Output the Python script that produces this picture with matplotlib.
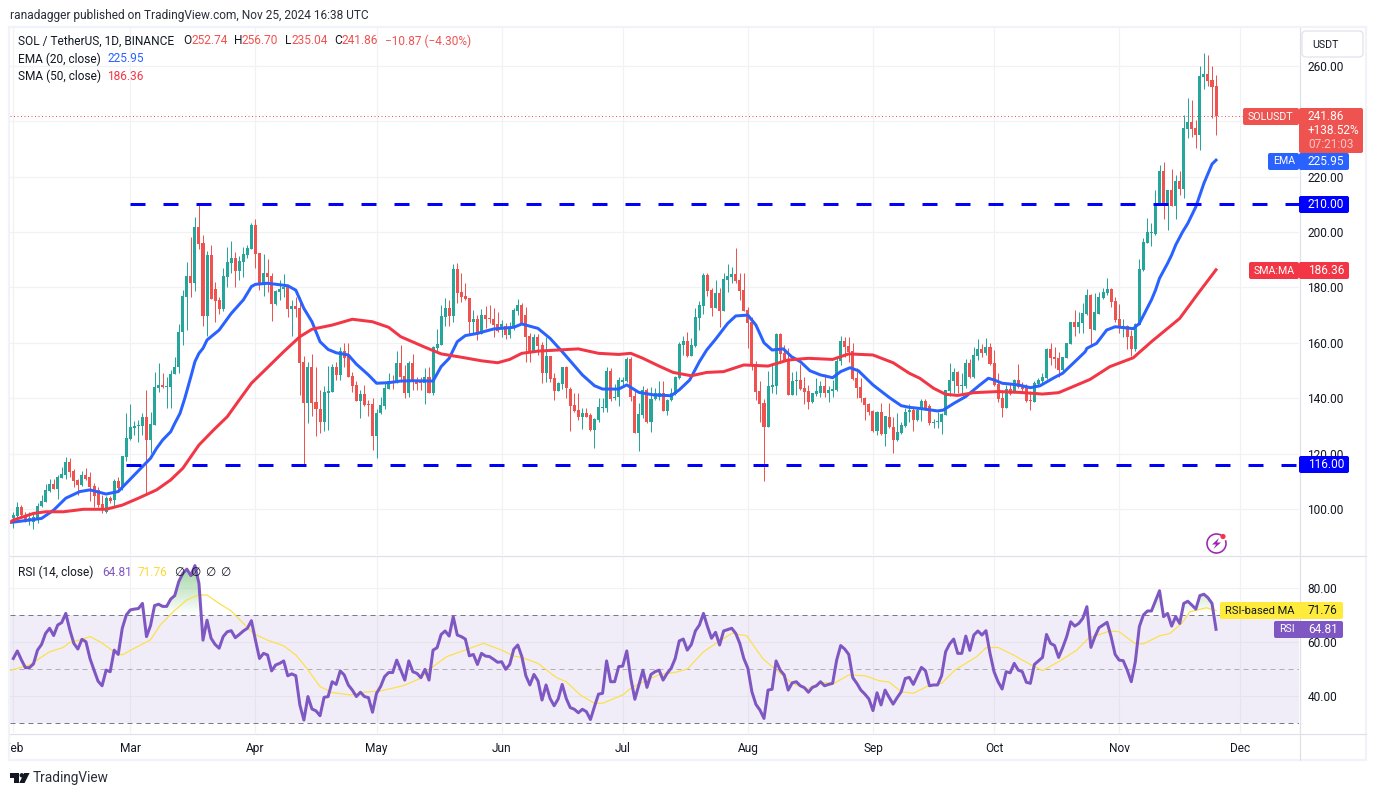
import matplotlib
matplotlib.use("Agg")
import matplotlib.pyplot as plt
import numpy as np
from matplotlib.colors import LinearSegmentedColormap
from matplotlib.patches import Circle, FancyBboxPatch, Polygon, Rectangle, Arc
from matplotlib.path import Path

plt.rcParams['font.family'] = ['Roboto', 'DejaVu Sans']

# daily candles, index 0 is Feb 1 2024
opens = [96.6,97.5,100.8,97.8,96.0,95.4,96.3,101.0,102.6,106.6,
108.9,107.2,111.3,112.3,117.1,113.8,110.5,108.7,112.3,111.7,
108.2,106.9,101.7,99.0,103.9,103.2,110.1,107.7,118.9,125.4,
129.4,129.8,130.0,133.1,124.9,130.4,143.8,144.6,144.2,144.1,
148.6,151.1,163.8,176.7,184.1,181.7,201.7,195.9,169.7,191.7,
179.4,175.5,172.1,183.9,188.9,190.5,186.0,189.3,191.7,193.9,
202.5,192.3,180.9,185.1,184.1,174.0,178.5,179.3,180.6,172.2,
173.3,172.4,153.1,138.4,151.4,138.5,136.1,131.4,142.0,142.4,
151.4,148.4,157.0,155.2,148.0,144.8,138.9,141.5,137.9,137.9,
126.5,134.5,137.3,143.3,146.2,145.6,152.6,148.0,142.0,152.6,
146.2,146.2,145.4,147.5,141.8,158.3,159.2,169.4,172.4,169.7,
186.6,178.5,176.9,176.0,167.6,168.6,163.2,170.0,168.6,168.5,
166.8,165.5,166.1,162.8,165.2,171.6,173.6,170.0,162.5,157.2,
162.0,159.2,149.2,155.2,147.2,142.7,145.1,151.1,143.3,137.5,
135.7,133.3,134.8,133.9,128.5,132.1,136.6,136.6,149.8,140.2,
140.3,146.0,146.2,154.0,140.8,127.6,134.1,143.0,131.5,139.6,
140.6,141.8,135.5,139.3,141.5,147.4,159.2,160.6,155.2,158.8,
169.1,173.4,184.5,179.1,172.4,178.1,171.6,182.7,183.9,184.8,
182.7,179.1,171.8,167.6,152.3,142.6,138.1,129.7,144.2,144.4,
163.2,156.2,154.0,141.2,146.2,146.6,143.6,142.6,138.5,141.5,
142.0,144.5,142.0,142.7,143.0,153.5,160.6,158.8,157.0,147.2,
143.9,140.2,137.9,135.4,128.2,134.9,127.1,133.3,129.5,124.9,
127.3,130.1,134.9,135.7,132.1,135.7,139.0,137.2,131.1,131.5,
131.5,133.9,142.7,146.3,149.6,144.5,144.4,152.6,147.5,155.4,
157.8,156.2,158.4,152.6,145.0,140.0,136.3,143.2,142.4,146.6,
144.2,143.6,139.3,138.7,145.1,146.3,147.2,157.8,154.8,154.6,
150.2,154.6,159.6,167.5,165.8,167.2,170.3,177.2,164.6,170.4,
176.1,177.9,179.3,175.1,168.5,165.8,166.1,162.5,157.6,166.4,
186.3,196.1,199.8,199.3,209.7,222.0,209.5,215.2,209.5,218.4,
215.5,237.2,239.6,237.4,235.0,256.1,257.0,254.9,252.74]

highs = [99.0,102.4,101.4,99.0,98.8,98.7,102.0,105.0,108.9,110.7,
110.7,112.3,115.0,118.7,118.3,114.3,111.0,113.7,114.7,113.5,
109.3,108.1,105.1,104.7,104.7,110.7,111.7,119.1,134.5,137.9,
131.8,132.1,134.8,143.0,134.9,149.3,152.6,149.0,147.8,150.2,
155.0,166.7,179.1,189.3,198.3,205.3,210.1,198.9,193.1,195.3,
181.8,176.7,186.9,194.7,196.8,192.7,191.5,194.7,195.3,203.4,
204.7,192.3,192.1,190.3,185.1,179.1,182.7,184.8,180.9,175.4,
176.4,176.4,155.4,152.9,155.8,151.4,143.0,144.5,151.6,152.3,
153.2,158.4,159.8,159.8,149.6,146.2,143.0,144.8,139.3,140.0,
136.1,140.6,145.4,149.0,148.4,157.0,159.2,152.0,153.5,155.8,
147.8,147.5,150.8,151.1,158.8,164.9,173.6,176.0,175.5,188.4,
188.7,185.3,181.5,176.0,171.8,170.0,172.2,173.4,173.6,172.7,
171.2,168.2,167.0,167.6,172.4,175.7,174.2,173.0,163.4,163.0,
163.0,160.4,162.2,155.2,149.0,146.0,151.4,151.7,143.9,141.8,
141.8,136.3,136.6,134.5,132.7,140.0,140.0,151.3,150.8,145.1,
147.8,147.8,154.8,154.8,142.7,138.1,144.5,143.6,144.2,143.6,
146.3,146.2,139.6,143.6,148.0,160.4,162.6,163.8,161.6,172.4,
175.1,185.1,185.1,179.9,182.7,179.9,185.1,188.4,187.5,194.1,
185.1,185.1,173.0,169.4,153.5,146.2,139.6,149.9,152.6,163.7,
163.4,159.2,158.2,149.6,149.8,152.3,147.5,144.8,142.0,147.4,
146.2,148.6,144.4,146.6,154.4,162.5,162.2,162.0,159.8,150.8,
147.4,140.6,138.1,135.7,135.4,138.1,133.7,138.1,133.3,134.5,
131.5,136.3,137.9,136.3,136.9,139.6,139.6,137.9,132.5,135.1,
134.5,143.0,152.8,150.8,149.8,149.2,154.0,154.0,158.4,161.4,
159.6,161.6,159.8,157.4,149.0,143.0,144.8,145.1,146.9,152.3,
145.7,145.1,142.7,146.3,147.2,149.0,158.0,160.0,158.4,156.8,
155.0,160.0,167.6,171.8,171.2,174.5,179.3,177.5,177.9,178.5,
179.7,183.3,179.7,176.7,173.9,168.5,166.4,164.6,167.0,190.1,
197.7,204.9,203.4,215.2,224.2,225.4,215.2,222.6,220.6,222.1,
242.2,248.3,247.7,240.4,259.9,264.5,263.9,259.9,256.70]

lows = [93.3,97.2,96.6,95.4,94.2,92.8,94.8,100.8,102.4,106.3,
107.2,103.6,111.1,111.0,111.7,108.0,105.0,108.3,110.5,102.9,
100.8,100.6,98.7,98.7,102.0,100.8,106.3,107.0,117.4,125.0,
126.7,124.3,126.7,105.4,120.1,130.4,142.4,143.8,136.3,136.3,
148.6,149.0,159.2,164.6,176.7,178.8,193.9,166.1,162.5,175.8,
167.6,170.4,171.6,180.3,185.1,180.3,182.7,183.6,190.5,193.7,
186.9,179.1,176.9,178.5,168.0,173.6,175.5,176.7,169.2,162.5,
169.2,141.2,115.9,130.9,133.7,126.5,127.3,128.3,128.5,142.4,
146.6,146.6,151.4,147.8,142.4,138.9,133.0,137.3,133.6,121.3,
118.5,134.3,136.1,143.2,143.3,145.4,146.0,140.2,140.6,143.0,
143.0,143.0,137.9,141.8,141.2,156.8,159.2,166.1,166.1,167.6,
174.5,174.9,175.5,162.8,163.2,161.0,163.0,165.2,167.0,162.2,
164.0,162.2,161.4,161.6,164.6,170.0,167.0,153.2,153.2,156.8,
155.6,145.4,146.0,146.0,139.4,142.6,143.2,140.2,128.2,135.1,
132.1,128.8,133.3,128.2,122.1,131.5,135.1,135.1,139.1,139.4,
137.3,144.2,146.0,139.0,127.6,121.1,132.7,131.2,127.9,139.3,
139.3,135.4,133.9,139.1,141.3,147.0,155.6,155.0,155.2,158.6,
164.6,170.4,176.9,169.7,172.4,165.6,171.6,178.5,181.5,181.5,
175.5,171.5,158.2,150.2,139.3,131.5,110.2,129.7,141.8,141.5,
152.8,153.5,141.2,141.2,141.2,143.0,137.9,136.1,138.1,140.9,
140.6,140.6,138.7,140.6,142.6,152.0,155.0,153.2,146.6,140.2,
138.5,132.1,133.9,127.9,126.7,126.7,122.7,129.1,120.3,124.5,
127.1,129.7,131.5,128.3,131.9,131.8,135.7,130.3,129.1,129.1,
127.1,133.9,140.8,141.8,141.8,141.8,143.6,147.2,147.2,153.8,
155.0,155.6,152.0,144.5,138.7,133.3,136.3,141.2,142.0,143.6,
141.8,138.7,135.7,138.7,144.2,145.4,146.9,152.0,150.8,147.5,
150.0,154.4,159.6,162.5,163.4,163.4,170.0,159.2,164.6,170.4,
175.7,177.3,173.0,167.6,163.4,162.2,157.8,155.2,157.0,166.4,
186.0,195.9,195.0,198.9,209.7,204.6,200.7,209.5,204.7,213.4,
212.2,233.8,234.4,230.4,229.6,251.6,252.7,241.3,235.04]

closes = [97.8,100.8,97.8,95.4,96.6,97.2,101.0,102.9,106.9,109.0,
107.3,111.4,112.6,117.1,113.5,110.2,108.7,112.3,111.0,108.0,
104.8,101.4,99.6,103.9,102.9,110.1,107.7,119.1,125.5,129.5,
130.1,130.3,133.1,124.9,130.6,143.9,144.6,144.0,144.3,148.7,
151.3,163.8,176.9,184.1,181.7,201.7,195.7,169.7,191.7,175.8,
175.2,172.2,184.1,189.0,190.5,186.0,189.4,191.9,194.1,202.5,
192.1,180.9,185.1,183.6,174.0,178.7,179.4,180.3,172.2,173.3,
172.1,152.8,138.4,151.4,138.4,136.1,131.4,142.1,142.6,151.4,
148.4,157.0,154.6,147.8,144.4,138.9,141.5,137.5,137.7,126.5,
134.7,137.5,143.6,146.2,145.6,152.6,147.5,142.0,152.6,146.2,
145.1,145.4,147.5,142.0,158.4,159.6,169.7,172.4,169.7,186.6,
178.1,176.4,175.7,167.6,168.6,163.2,170.0,168.5,168.5,166.4,
164.4,166.7,162.8,165.6,171.8,173.6,167.0,162.2,157.2,162.0,
158.8,149.2,155.2,146.8,142.7,145.4,151.1,143.6,137.3,135.4,
133.3,134.8,133.3,128.5,132.5,136.9,136.9,149.8,139.6,140.6,
146.6,146.5,154.0,140.6,127.6,134.3,143.0,131.5,139.7,141.8,
141.8,135.5,139.3,141.8,147.5,159.6,160.6,155.2,159.1,169.2,
173.6,184.5,178.8,172.7,178.1,171.6,183.0,184.1,184.8,182.4,
178.8,171.6,167.3,152.0,142.4,137.9,129.7,144.4,144.8,163.2,
156.0,153.5,141.2,146.2,146.6,143.3,142.1,138.5,141.8,142.6,
144.4,142.0,143.0,143.3,153.5,160.6,158.6,156.8,146.9,143.6,
140.2,137.5,134.9,128.2,134.9,127.1,133.7,129.5,124.9,127.9,
130.3,135.0,135.7,132.1,135.7,139.0,136.6,131.2,131.3,131.8,
134.3,143.0,146.6,149.6,144.5,144.8,152.6,147.5,155.6,157.8,
156.2,158.4,152.2,144.8,139.7,136.6,143.2,141.5,146.6,143.9,
143.2,139.1,139.1,145.4,146.6,147.5,157.8,154.4,154.2,150.2,
155.0,160.0,167.5,165.8,167.5,170.6,177.1,164.9,171.1,176.4,
178.2,179.3,174.9,168.2,165.8,166.1,162.2,157.6,166.7,186.6,
196.3,200.0,200.0,210.2,222.0,209.7,215.2,209.5,218.4,215.4,
237.4,239.6,237.2,235.0,256.3,257.0,254.6,252.5,241.86]

ema_days = [-1,4,7,10,13,16.5,19,23,26,30,34,35.5,37,39,40,41.3,42.5,44,45,46,47,48,51,54,57,59,60,63,68,70,72,74,76,
            78,80,83,85,88,90,93,96,99,104,106,108,110,112,115,119,124,126,130,133,136,141,144,146,150,
            152,155,158.6,163,165,167.6,170,171.8,174,177,179,182,184,186,188,190.8,192.8,195,197.4,200,203,205,207.3,209.4,213,217,220,222,
            224.6,229,230.4,233,236,239.5,241.6,243,245,249,252,254.4,258,260,262.6,265.6,266,268.4,270.9,273,277.5,279,282,283,284,286,287,288,289.7,291,293,295,297,298]
ema_vals = [95.1,96.0,96.6,99.6,103.9,106.3,106.9,105.4,106.3,112.3,118.3,121.9,124.9,127.9,130.9,134.5,140.0,147.8,153.2,156.2,158.0,161.0,164.6,170.6,175.5,180.3,181.1,181.5,180.6,179.0,172.4,167.6,160.4,
            157.6,156.4,155.6,152.3,148.4,145.4,145.6,146.2,146.3,146.2,151.4,154.4,160.4,162.6,163.4,165.0,165.6,166.8,165.2,161.6,156.8,148.4,144.5,143.3,143.3,
            144.8,142.1,141.2,140.9,143.0,146.6,153.2,157.4,161.3,167.0,169.7,170.0,166.4,160.0,157.4,157.8,155.0,153.2,149.9,148.4,147.4,149.6,151.0,149.9,144.8,140.3,137.3,136.7,
            136.3,135.4,135.7,138.1,140.6,144.8,147.2,146.6,145.4,144.8,143.8,144.5,147.5,149.0,152.6,156.8,158.0,159.8,164.6,165.8,165.1,167.0,175.5,179.0,183.3,188.7,191.7,195.3,200.0,203.1,209.1,217.6,224.5,225.95]

sma_days = [-1,0,5,8,12.4,17.4,23,27,31,35.5,39,42,46,49.6,53,56,59,62.8,67,71,74,79,84,89,93,96,102,106,111,116,120,123,126,130,135,140,145,150,
            153,156,160,163.5,168,171.8,176,181,187,192,197,203,207,213,218,222,224.6,228,231,234,238,244,249.4,255,259,262.6,266.8,271.7,277.5,282,285,289,293.6,298]
sma_vals = [95.0,96.0,98.4,99.0,99.0,99.9,99.9,101.4,103.9,106.9,110.5,114.7,123.1,128.5,133.3,139.4,145.4,150.8,156.8,162.2,164.9,166.4,168.5,167.6,165.6,162.2,158.4,156.0,154.8,153.5,152.8,154.0,156.2,157.0,157.4,157.8,156.2,155.8,
            156.2,154.4,151.6,149.3,148.1,149.3,149.6,152.0,151.6,153.8,154.4,154.0,156.0,155.6,152.8,149.0,147.2,143.6,141.4,141.0,142.0,142.4,142.1,141.5,142.0,144.2,146.8,151.4,154.6,160.4,164.0,168.8,177.9,186.36]

rsi = [54.0,56.8,53.5,50.6,50.6,52.0,57.1,59.2,63.3,65.2,
62.5,66.4,67.3,70.7,64.6,59.6,57.5,61.1,60.2,54.0,
49.7,45.6,43.9,49.7,49.1,57.1,55.5,65.2,70.1,72.0,
72.3,72.5,74.4,62.1,66.2,73.6,74.1,73.3,73.3,76.0,
77.3,82.5,85.5,87.1,84.7,88.4,81.8,60.8,68.2,61.5,
59.2,57.8,62.1,63.9,64.3,61.7,62.9,64.2,65.2,68.0,
60.8,54.0,55.9,55.3,49.4,51.6,52.2,53.1,47.6,48.3,
47.6,36.8,31.2,39.9,35.3,34.6,32.8,39.6,39.9,45.4,
44.4,49.4,47.9,44.2,42.3,39.9,41.5,39.9,39.5,34.1,
41.1,43.6,47.3,48.8,48.8,53.4,49.7,46.0,53.1,49.1,
48.5,46.9,50.0,46.0,57.1,58.0,62.9,64.2,62.3,69.5,
62.7,62.1,61.2,55.0,55.5,51.8,55.9,54.9,54.7,53.7,
52.6,52.8,50.0,51.8,57.4,59.0,54.7,47.6,44.2,48.1,
45.7,38.6,44.2,39.2,36.5,39.0,44.4,39.2,35.8,35.2,
33.9,35.2,34.3,31.4,36.2,40.8,41.1,53.1,45.4,45.4,
51.0,51.2,56.8,46.6,38.9,44.2,49.7,43.3,48.1,49.1,
49.7,46.0,48.5,50.4,54.0,60.5,61.2,57.1,59.2,64.2,
66.4,70.7,65.8,61.5,63.7,59.0,64.2,64.7,65.2,63.3,
59.6,54.0,50.4,41.7,37.0,34.9,31.8,42.3,42.6,53.1,
49.7,47.9,42.3,45.0,45.4,43.9,43.2,41.5,43.3,43.9,
45.4,43.9,44.4,44.8,53.4,58.8,57.5,55.5,46.9,44.8,
42.3,40.8,39.0,34.7,41.3,36.8,42.3,39.6,37.1,39.5,
41.7,46.6,47.0,44.4,47.6,50.7,49.5,43.9,44.2,44.2,
47.6,56.5,59.4,61.2,55.9,55.9,62.3,57.0,62.7,64.2,
62.7,64.3,55.9,49.1,45.4,42.7,49.1,48.7,52.2,49.7,
49.1,45.2,44.8,51.8,53.1,54.4,62.9,59.6,58.8,54.4,
58.0,62.1,67.6,66.0,67.0,68.9,73.2,58.1,62.1,65.4,
66.4,67.4,62.1,55.5,53.4,53.2,49.7,45.4,52.8,65.8,
70.1,71.6,71.6,75.3,79.1,69.5,70.7,66.0,69.5,67.0,
74.4,75.2,73.8,72.3,77.3,77.8,76.5,74.4,64.81]

rsi_ma_days = [-1,4,9,12.4,14,16.5,19,21.5,25,27,30,34,36.4,39.6,43,45.8,48,51,54,56.6,59.5,62.8,67,70,72.7,76,79,83.4,86.7,91,96.6,100.8,104,107.4,
               111.5,116.5,121,124,126,130,134.6,137,140.5,144,146,151,153,155.3,160,164.4,167,171,175,178,181.7,185.8,190,193,196.6,200,203.6,207,211,214.7,217,
               220,223,226.3,230,233.3,238.7,241,244,247.8,251.5,255,259,263.5,266.4,271.7,274,277.9,280,284,286.6,289.5,291.5,295.6,298]
rsi_ma_vals = [49.5,51.6,56.5,58.1,60.0,60.9,62.1,60.2,56.5,55.3,57.8,60.9,66.4,71.3,75.7,77.5,77.5,74.4,71.6,67.6,63.3,60.9,58.7,55.3,50.4,43.6,41.4,40.5,41.5,42.0,43.9,46.6,51.0,54.7,
               56.9,59.6,57.1,54.9,54.4,52.2,46.9,45.4,40.5,37.4,37.4,40.5,43.0,44.8,48.0,49.0,50.1,56.5,60.5,63.3,62.4,53.8,48.5,44.8,42.7,45.0,45.0,47.9,47.6,45.7,45.3,
               41.7,41.1,43.6,44.8,49.7,54.7,58.0,58.1,55.3,52.2,49.5,52.8,57.1,61.5,64.2,63.9,59.6,59.4,62.4,63.3,67.0,71.3,72.8,71.76]

month_days = [0, 29, 60, 90, 121, 151, 182, 213, 243, 274, 304]
month_labels = ['Feb', 'Mar', 'Apr', 'May', 'Jun', 'Jul', 'Aug', 'Sep', 'Oct', 'Nov', 'Dec']
price_ticks = [100, 120, 140, 160, 180, 200, 220, 240, 260]
rsi_ticks = [40, 60, 80]
support_level = 116
resistance_level = 210
last_price = 241.86

GREEN = '#26a69a'
RED = '#ef5350'
BLUE = '#2962ff'
MA_RED = '#f23645'
PURPLE = '#7e57c2'
YELLOW = '#ffeb3b'
DARK = '#131722'
GRID = '#f2f2f4'
BORDER = '#e0e0ea'
W, H = 1377, 796
PX = 0.72  # one pixel in points at dpi 100
FS = 11.9 * PX
CAPS = 10.6 * PX


def pane(x0, y0, x1, y1):
    return fig.add_axes([x0 / W, 1 - y1 / H, (x1 - x0) / W, (y1 - y0) / H])


fig = plt.figure(figsize=(W / 100, H / 100), dpi=100, facecolor='white')

# price pane
ax = pane(10, 28, 1299, 555)
days = np.arange(len(closes))
o, h, l, c = map(np.array, (opens, highs, lows, closes))
up = c >= o
colors = np.where(up, GREEN, RED)
ax.vlines(days, l, h, colors=colors, lw=1 * PX, zorder=3)
ax.bar(days, np.maximum(np.abs(c - o), 0.35), bottom=np.minimum(o, c), width=0.75, color=colors, lw=0, zorder=3)
ax.plot(ema_days, ema_vals, color=BLUE, lw=3 * PX, zorder=4, solid_joinstyle='round')
ax.plot(sma_days, sma_vals, color=MA_RED, lw=3 * PX, zorder=4, solid_joinstyle='round')

# hand drawn levels
dash = (0, (5, 6))
ax.plot([(130 - 13.3) / 4.036, 320], [resistance_level] * 2, color='#0000ff', lw=3 * PX, ls=dash,
        dash_capstyle='butt', zorder=5)
ax.plot([(126 - 13.3) / 4.036, 320], [support_level] * 2, color='#0000ff', lw=3 * PX, ls=dash,
        dash_capstyle='butt', zorder=5)
ax.axhline(last_price, color=RED, lw=1 * PX, ls=(0, (1, 2.5)), zorder=2)

ax.set_xlim((10 - 13.3) / 4.036, (1299 - 13.3) / 4.036)
ax.set_ylim(100 + (509 - 555) / 2.77, 100 + (509 - 28) / 2.77)
ax.set_xticks(month_days)
ax.set_xticklabels([])
ax.set_yticks(price_ticks)
ax.set_yticklabels(['%.2f' % t for t in price_ticks])

# rsi pane
ax2 = pane(10, 556, 1299, 733)
rsi_arr = np.array(rsi, dtype=float)
ax2.axhspan(30, 70, color=PURPLE, alpha=0.1, lw=0, zorder=1)
for lev, alpha in ((70, 1), (50, 0.55), (30, 1)):
    ax2.axhline(lev, color='#787b86', lw=1 * PX, ls=(0, (5, 4)), alpha=alpha, zorder=2)

xlim2 = ax.get_xlim()
ylim2 = (80 - (733 - 588.3) / 2.7, 80 + (588.3 - 556) / 2.7)
fill = ax2.fill_between(days, 70, rsi_arr, where=rsi_arr > 70, interpolate=True, color='none', lw=0)
cmap = LinearSegmentedColormap.from_list('ob', [(0.3, 0.69, 0.31, 0.0), (0.3, 0.69, 0.31, 0.6)])
grad = ax2.imshow(np.linspace(0, 1, 64).reshape(-1, 1), extent=[xlim2[0], xlim2[1], 70, 90], origin='lower',
                  aspect='auto', cmap=cmap, zorder=2)
grad.set_clip_path(Path.make_compound_path(*fill.get_paths()), ax2.transData)
ax2.plot(rsi_ma_days, rsi_ma_vals, color='#fde047', lw=1.2 * PX, zorder=3)
ax2.plot(days, rsi_arr, color=PURPLE, lw=3 * PX, zorder=4, solid_joinstyle='round')
ax2.set_xlim(xlim2)
ax2.set_ylim(ylim2)
ax2.set_xticks(month_days)
ax2.set_xticklabels([])
ax2.set_yticks(rsi_ticks)
ax2.set_yticklabels(['%.2f' % t for t in rsi_ticks])

for a in (ax, ax2):
    a.set_facecolor('white')
    a.yaxis.tick_right()
    a.tick_params(axis='both', length=0, labelsize=FS, labelcolor=DARK, pad=6)
    a.grid(True, color=GRID, lw=1.2 * PX, zorder=0)
    a.set_axisbelow(True)
    for s in a.spines.values():
        s.set_visible(False)

# time axis
ax3 = pane(10, 734, 1299, 760)
ax3.set_xlim(xlim2)
ax3.set_ylim(0, 1)
ax3.axis('off')
for d, lab in zip(month_days, month_labels):
    ax3.text(d, 0.46, lab, ha='center', va='center', fontsize=FS, color=DARK, clip_on=True)

# overlay in pixel units for frame, labels and tags
ov = fig.add_axes([0, 0, 1, 1], zorder=10)
ov.set_xlim(0, W)
ov.set_ylim(H, 0)
ov.axis('off')
ov.patch.set_alpha(0)

ov.add_patch(Rectangle((9, 27), 1357, 733, fill=False, ec='#f0f3fa', lw=2.2 * PX))
ov.plot([10, 1366], [555.5, 555.5], color=BORDER, lw=1.2 * PX)
ov.plot([10, 1366], [733.5, 733.5], color=BORDER, lw=1.2 * PX)
ov.plot([1299.5, 1299.5], [28, 760], color=BORDER, lw=1.2 * PX)


def label(x, y, s, color=DARK, ha='left', size=FS, **kw):
    ov.text(x, y, s, color=color, ha=ha, va='center', fontsize=size, **kw)


def tag(x0, y0, x1, y1, color, z=6):
    ov.add_patch(FancyBboxPatch((x0 + 1, y0 + 1), x1 - x0 - 2, y1 - y0 - 2, boxstyle='round,pad=1,rounding_size=2',
                                fc=color, ec='none', zorder=z))


label(10, 15, 'ranadagger published on TradingView.com, Nov 25, 2024 16:38 UTC', color='#2a2e39')
label(18, 41, 'SOL / TetherUS, 1D, BINANCE')
for x, s, col in ((183, 'O', DARK), (191, '252.74', RED), (234, 'H', DARK), (242, '256.70', RED),
                  (285, 'L', DARK), (291, '235.04', RED), (334, 'C', DARK), (342, '241.86', RED),
                  (385, '−10.87 (−4.30%)', RED)):
    label(x, 41, s, color=col)
label(18, 59, 'EMA (20, close)')
label(108, 59, '225.95', color=BLUE)
label(18, 76, 'SMA (50, close)')
label(107, 76, '186.36', color=MA_RED)

label(18, 572, 'RSI (14, close)')
label(102, 572, '64.81', color=PURPLE)
label(138, 572, '71.76', color='#fdd835')
for x in (179, 195, 210, 225):
    label(x, 572, '∅', ha='center')

# usdt box
ov.add_patch(FancyBboxPatch((1304, 33), 57, 22, boxstyle='round,pad=2,rounding_size=4', fc='white', ec=BORDER,
                            lw=1.2 * PX, zorder=6))
label(1312, 45, 'USDT', size=CAPS, zorder=7)

# price tags
tag(1243, 108, 1299, 125, RED)
label(1248, 116.5, 'SOLUSDT', color='white', size=CAPS, zorder=7)
tag(1299, 108, 1363, 153, RED)
label(1308, 116.5, '241.86', color='white', zorder=7)
label(1308, 131, '+138.52%', color='white', zorder=7)
label(1308, 144.5, '07:21:03', color='#f9c5c4', zorder=7)

tag(1268, 153, 1299, 170, BLUE)
label(1273, 161.5, 'EMA', color='white', size=CAPS, zorder=7)
tag(1299, 153, 1349, 170, BLUE)
label(1308, 161.5, '225.95', color='white', zorder=7)

tag(1299, 196, 1349, 213, '#0000ff')
label(1308, 204.5, '210.00', color='white', zorder=7)

tag(1249, 262, 1299, 279, MA_RED)
label(1254, 270.5, 'SMA:MA', color='white', size=CAPS, zorder=7)
tag(1299, 262, 1349, 279, MA_RED)
label(1308, 270.5, '186.36', color='white', zorder=7)

tag(1299, 456, 1349, 473, '#0000ff')
label(1308, 464.5, '116.00', color='white', zorder=7)

tag(1220, 602, 1343, 619, YELLOW)
label(1225, 610.5, 'RSI-based MA', color=DARK, size=11.1 * PX, zorder=7)
label(1308, 610.5, '71.76', color=DARK, zorder=7)
tag(1274, 621, 1343, 638, PURPLE)
label(1279, 629.5, 'RSI', color='white', size=CAPS, zorder=7)
label(1308, 629.5, '64.81', color='white', zorder=7)

# lightning icon
ov.add_patch(Arc((1216.5, 543.5), 19, 19, theta1=-20, theta2=300, color='#9c27b0', lw=1.6 * PX))
ov.add_patch(Polygon([[1219, 538], [1212, 544.5], [1216, 544.5], [1213.5, 549], [1221, 542.5], [1217, 542.5]],
                     closed=True, fc='#9c27b0', ec='none'))
ov.add_patch(Circle((1223, 536.5), 2.6, fc=MA_RED, ec='none'))

# logo
ov.add_patch(Polygon([[10, 773], [19, 773], [19, 783], [14, 783], [14, 777.5], [10, 777.5]], closed=True, fc=DARK, ec='none'))
ov.add_patch(Circle((21.8, 775.3), 2.2, fc=DARK, ec='none'))
ov.add_patch(Polygon([[24.2, 773], [29.6, 773], [24.6, 783], [19.2, 783]], closed=True, fc=DARK, ec='none'))
label(33, 778, 'TradingView', color='#2a2e39', size=13.6 * PX)

fig.savefig('out.png', dpi=100, facecolor='white')
